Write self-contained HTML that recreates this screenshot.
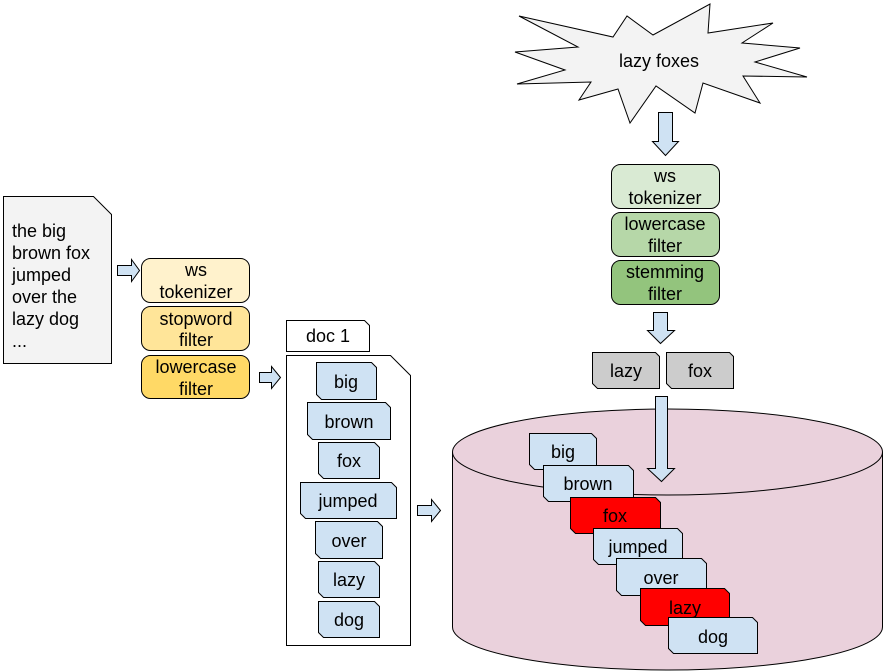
<!DOCTYPE html>
<html><head><style>body{margin:0;background:#fff}svg{display:block}text{font-family:"Liberation Sans",Arial,sans-serif;font-size:18px;fill:#000}</style></head>
<body>
<svg width="885" height="672" viewBox="0 0 885 672" xmlns="http://www.w3.org/2000/svg">
<g stroke="#000" stroke-width="1">
<path d="M3.5 196.5H93.5L111.5 214.5V363.5H3.5Z" fill="#f3f3f3"/>
<rect x="141.5" y="258.5" width="108" height="44" rx="9" fill="#fff2cc"/>
<rect x="141.5" y="306.5" width="108" height="44" rx="9" fill="#ffe599"/>
<rect x="141.5" y="355.5" width="108" height="43" rx="9" fill="#ffd966"/>
<path d="M117.5 265.5H131.5V259.5L139.5 270.5L131.5 281.5V275.5H117.5Z" fill="#cfe2f3"/>
<path d="M259.5 372.5H271.5V366.5L280.5 377.5L271.5 388.5V382.5H259.5Z" fill="#cfe2f3"/>
<path d="M417.5 505.5H431.5V499.5L440.5 510.5L431.5 521.5V515.5H417.5Z" fill="#cfe2f3"/>
<path d="M286.5 320.5H364.5L369.5 325.5V351.5H286.5Z" fill="#fff"/>
<path d="M286.5 355.5H390.5L410.5 375.5V645.5H286.5Z" fill="#fff"/>
<path d="M452.5 452V627A215 43 0 0 0 882.5 627V452" fill="#ead1dc"/>
<ellipse cx="667.5" cy="452" rx="215" ry="43" fill="#ead1dc"/>
<path d="M519 16L613 37L627 16L653 35L710 4L708 33L773 23L742 43L800 48L755 62L807 77L743 76L760 103L703 83L695 113L656 86L630 123L618 89L579 100L591 82L517 84L565 70L515 52L578 47Z" fill="#f3f3f3"/>
<rect x="611.5" y="164.5" width="108" height="44" rx="9" fill="#d9ead3"/>
<rect x="611.5" y="212.5" width="108" height="44" rx="9" fill="#b6d7a8"/>
<rect x="611.5" y="260.5" width="108" height="44" rx="9" fill="#93c47d"/>
<path d="M658.5 112.5H672.5V141.5H678.5L665.5 155.5L652.5 141.5H658.5Z" fill="#cfe2f3"/>
<path d="M653.5 312.5H667.5V330.5H674.5L660.5 343.5L647.5 330.5H653.5Z" fill="#cfe2f3"/>
<path d="M592.5 352.5H655.5L659.5 356.5V388.5H597.5L592.5 383.5Z" fill="#cccccc"/>
<path d="M666.5 352.5H729.5L733.5 356.5V388.5H671.5L666.5 383.5Z" fill="#cccccc"/>
</g>
<g stroke="#000" stroke-width="1" fill="#cfe2f3">
<path d="M316.5 362.5H371.5L376.5 367.5V399.5H321.5L316.5 394.5Z"/>
<path d="M307.5 402.5H385.5L390.5 407.5V439.5H312.5L307.5 434.5Z"/>
<path d="M318.5 442.5H374.5L379.5 447.5V478.5H323.5L318.5 473.5Z"/>
<path d="M300.5 482.5H391.5L396.5 487.5V518.5H305.5L300.5 513.5Z"/>
<path d="M315.5 521.5H377.5L382.5 526.5V558.5H320.5L315.5 553.5Z"/>
<path d="M318.5 561.5H374.5L379.5 566.5V597.5H323.5L318.5 592.5Z"/>
<path d="M318.5 601.5H374.5L379.5 606.5V637.5H323.5L318.5 632.5Z"/>
<path d="M655.5 396.5H667.5V468.5H674.5L661.5 481.5L647.5 468.5H655.5Z"/>
<path d="M529.5 433.5H591.5L596.5 438.5V469.5H534.5L529.5 464.5Z"/>
<path d="M543.5 465.5H628.5L633.5 470.5V501.5H548.5L543.5 496.5Z"/>
<path d="M570.5 497.5H655.5L660.5 502.5V533.5H575.5L570.5 528.5Z" fill="#ff0000"/>
<path d="M593.5 528.5H677.5L682.5 533.5V564.5H598.5L593.5 559.5Z"/>
<path d="M616.5 558.5H701.5L706.5 563.5V595.5H621.5L616.5 590.5Z"/>
<path d="M640.5 588.5H724.5L729.5 593.5V625.5H645.5L640.5 620.5Z" fill="#ff0000"/>
<path d="M668.5 617.5H752.5L757.5 622.5V653.5H673.5L668.5 648.5Z"/>
</g>
<text x="12" y="237">the big</text>
<text x="12" y="259">brown fox</text>
<text x="12" y="281">jumped</text>
<text x="12" y="303">over the</text>
<text x="12" y="325">lazy dog</text>
<text x="12" y="347">...</text>
<g text-anchor="middle">
<text x="196" y="276">ws</text><text x="196" y="298">tokenizer</text>
<text x="196" y="325">stopword</text><text x="196" y="346">filter</text>
<text x="196" y="373">lowercase</text><text x="196" y="395">filter</text>
<text x="328" y="342">doc 1</text>
<text x="346" y="388">big</text>
<text x="349" y="428">brown</text>
<text x="349" y="467">fox</text>
<text x="348" y="507">jumped</text>
<text x="349" y="547">over</text>
<text x="349" y="586">lazy</text>
<text x="349" y="626">dog</text>
<text x="659" y="67">lazy foxes</text>
<text x="665" y="182">ws</text><text x="665" y="204">tokenizer</text>
<text x="665" y="230">lowercase</text><text x="665" y="252">filter</text>
<text x="665" y="278">stemming</text><text x="665" y="300">filter</text>
<text x="626" y="377">lazy</text>
<text x="700" y="377">fox</text>
<text x="563" y="458">big</text>
<text x="588" y="490">brown</text>
<text x="615" y="522">fox</text>
<text x="638" y="553">jumped</text>
<text x="661" y="584">over</text>
<text x="685" y="614">lazy</text>
<text x="713" y="643">dog</text>
</g>
</svg>
</body></html>
